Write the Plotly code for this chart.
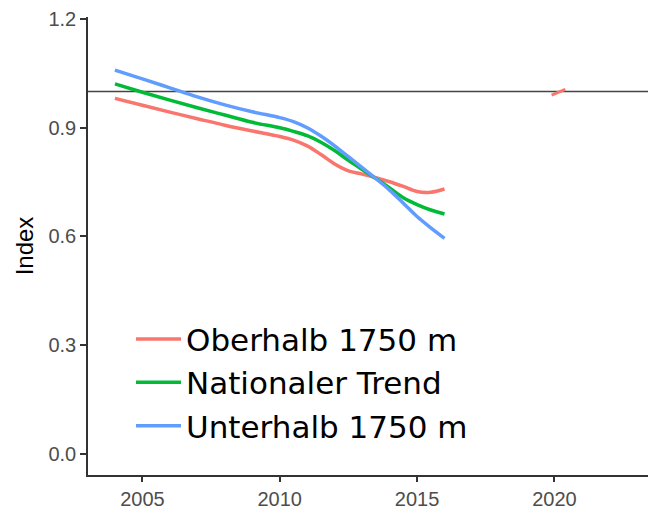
import plotly.graph_objects as go

years = [2004, 2005, 2006, 2007, 2008, 2009, 2010, 2010.5, 2011, 2011.5, 2012,
         2012.5, 2013, 2013.5, 2014, 2014.5, 2015, 2015.5, 2016]
oberhalb = [0.981, 0.962, 0.943, 0.925, 0.907, 0.891, 0.876, 0.866, 0.850, 0.826,
            0.800, 0.781, 0.772, 0.762, 0.751, 0.738, 0.724, 0.722, 0.731]
national = [1.021, 0.998, 0.976, 0.955, 0.935, 0.915, 0.900, 0.890, 0.878, 0.860,
            0.837, 0.810, 0.785, 0.760, 0.734, 0.707, 0.688, 0.673, 0.662]
unterhalb = [1.059, 1.035, 1.010, 0.985, 0.963, 0.944, 0.928, 0.917, 0.900, 0.877,
             0.850, 0.820, 0.790, 0.760, 0.728, 0.692, 0.655, 0.624, 0.595]
extra_x = [2019.9, 2020.4]
extra_y = [0.990, 1.006]
x_ticks = [2005, 2010, 2015, 2020]
y_ticks = [0.0, 0.3, 0.6, 0.9, 1.2]
y_ticklabels = ["0.0", "0.3", "0.6", "0.9", "1.2"]

RED, GREEN, BLUE = "#F8766D", "#00BA38", "#619CFF"

fig = go.Figure()
fig.add_trace(go.Scatter(x=years, y=oberhalb, mode="lines", name="Oberhalb 1750 m",
                         line=dict(color=RED, width=3.5, shape="spline")))
fig.add_trace(go.Scatter(x=years, y=national, mode="lines", name="Nationaler Trend",
                         line=dict(color=GREEN, width=3.5, shape="spline")))
fig.add_trace(go.Scatter(x=years, y=unterhalb, mode="lines", name="Unterhalb 1750 m",
                         line=dict(color=BLUE, width=3.5, shape="spline")))
fig.add_trace(go.Scatter(x=extra_x, y=extra_y, mode="lines", showlegend=False,
                         line=dict(color=RED, width=3)))
fig.add_hline(y=1.0, line=dict(color="#444444", width=1.5), layer="below")

fig.update_layout(
    width=648, height=503,
    margin=dict(l=80, r=0, t=9, b=36),
    paper_bgcolor="white", plot_bgcolor="white",
    font=dict(family="Liberation Sans, Arial, sans-serif"),
    legend=dict(x=0.0757, y=0.355, xanchor="left", yanchor="top",
                font=dict(family="DejaVu Sans", size=31, color="black"),
                bgcolor="rgba(0,0,0,0)", tracegroupgap=0, itemwidth=45),
    xaxis=dict(range=[2003.02, 2023.7], tickvals=x_ticks, showgrid=False, zeroline=False,
               showline=True, linecolor="#333333", linewidth=1.5,
               ticks="outside", ticklen=5, tickcolor="#333333", tickwidth=1.5,
               tickfont=dict(size=20, color="#4D4D4D"), ticklabeloverflow="allow"),
    yaxis=dict(range=[-0.058, 1.2055], tickvals=y_ticks, ticktext=y_ticklabels,
               showgrid=False, zeroline=False,
               showline=True, linecolor="#333333", linewidth=1.5,
               ticks="outside", ticklen=6, tickcolor="#333333", tickwidth=1.5,
               tickfont=dict(size=20, color="#4D4D4D"), ticklabeloverflow="allow",
               title=dict(text="Index", font=dict(size=24, color="black"), standoff=8)),
)

fig.write_html("out.html")
